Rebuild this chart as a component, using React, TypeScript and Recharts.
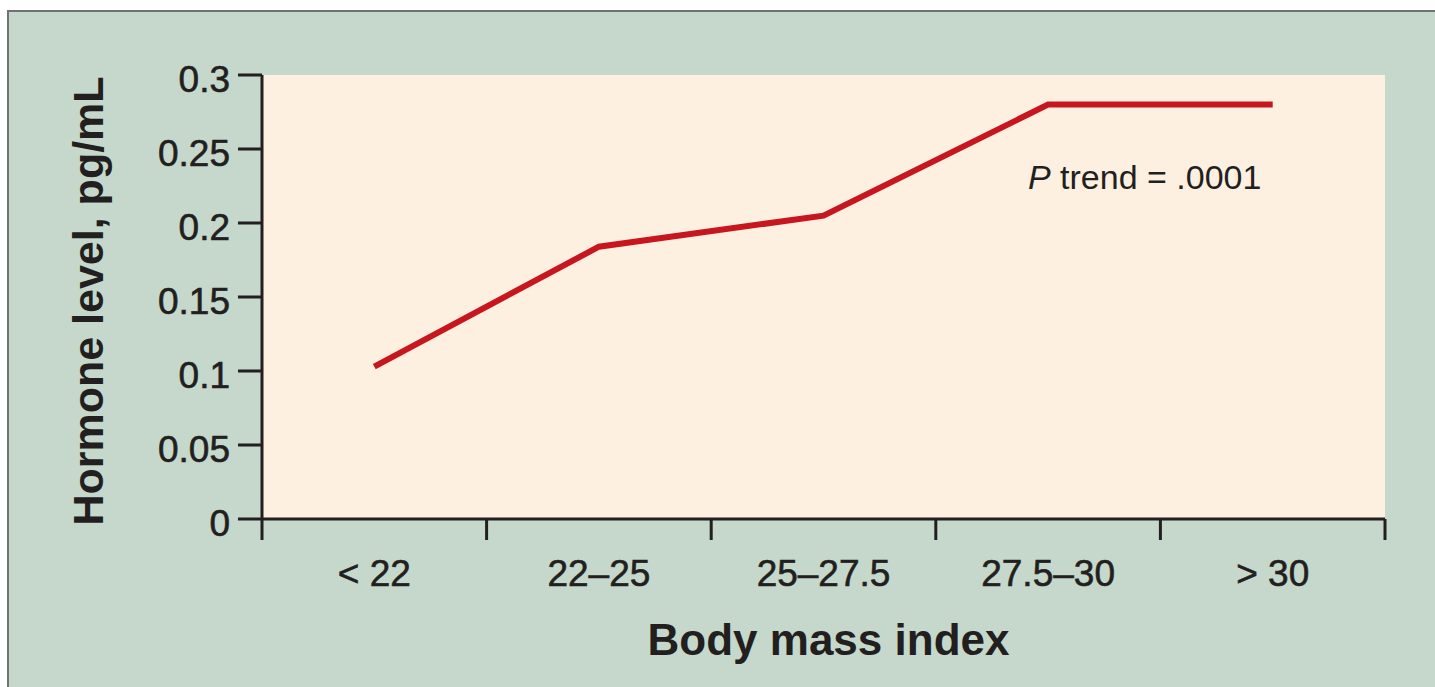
import React from "react";
import {
  LineChart,
  Line,
  XAxis,
  YAxis,
  CartesianGrid,
  ReferenceDot,
} from "recharts";

const categories = ["< 22", "22–25", "25–27.5", "27.5–30", "> 30"];
const hormoneLevels = [0.103, 0.184, 0.205, 0.28, 0.28];
const yTicks = [0, 0.05, 0.1, 0.15, 0.2, 0.25, 0.3];
const yTickLabels = ["0", "0.05", "0.1", "0.15", "0.2", "0.25", "0.3"];
const xBoundaries = [0, 1, 2, 3, 4, 5];
const trendNote = { x: 3.93, y: 0.223, italic: "P", text: " trend = .0001" };

const INK = "#231f20";
const FONT = "'Liberation Sans', Arial, sans-serif";

const data = categories.map((c, i) => ({
  pos: i + 0.5,
  category: c,
  level: hormoneLevels[i],
}));
const xCenters = data.map((d) => d.pos);

const tickStyle = {
  fontSize: 37,
  fill: INK,
  fontFamily: FONT,
  stroke: INK,
  strokeWidth: 0.6,
};

export default function App() {
  return (
    <div
      style={{
        position: "absolute",
        left: 0,
        top: 0,
        width: 1435,
        height: 687,
        background: "#ffffff",
        overflow: "hidden",
      }}
    >
      <div
        style={{
          position: "absolute",
          left: 7,
          top: 10,
          right: 0,
          bottom: 0,
          borderLeft: "2px solid #707173",
          borderTop: "2px solid #707173",
          background: "#c5d8cb",
        }}
      />
      <div style={{ position: "absolute", left: 0, top: 0 }}>
        <LineChart
          width={1435}
          height={687}
          data={data}
          margin={{ top: 75, right: 50, bottom: 0, left: 0 }}
          style={{ fontFamily: FONT }}
        >
          <CartesianGrid
            fill="#fef0e1"
            stroke="none"
            horizontal={false}
            vertical={false}
          />
          {/* category labels sit under the frame axis */}
          <XAxis
            xAxisId="b"
            dataKey="pos"
            type="number"
            domain={[0, 5]}
            ticks={xCenters}
            interval={0}
            tickFormatter={(v) => categories[Math.floor(v)]}
            axisLine={false}
            tickLine={false}
            tickSize={0}
            tickMargin={21}
            height={148}
            tick={tickStyle}
            label={{
              content: (props: any) => {
                const vb = props.viewBox;
                return (
                  <text
                    x={vb.x + vb.width / 2 + 5}
                    y={vb.y + 116}
                    textAnchor="middle"
                    fontSize={44}
                    fontWeight="bold"
                    fill={INK}
                    fontFamily={FONT}
                  >
                    Body mass index
                  </text>
                );
              },
            }}
          />
          <XAxis
            xAxisId="a"
            dataKey="pos"
            type="number"
            domain={[0, 5]}
            ticks={xBoundaries}
            interval={0}
            tickFormatter={() => ""}
            tickSize={21}
            height={20}
            axisLine={{ stroke: INK, strokeWidth: 3 }}
            tickLine={{ stroke: INK, strokeWidth: 3 }}
          />
          <YAxis
            type="number"
            domain={[0, 0.3]}
            ticks={yTicks}
            interval={0}
            width={262}
            tickSize={24}
            tickMargin={8}
            tickFormatter={(v) => yTickLabels[yTicks.indexOf(v)] ?? String(v)}
            tick={{ ...tickStyle, dy: 4 }}
            axisLine={{ stroke: INK, strokeWidth: 3 }}
            tickLine={{ stroke: INK, strokeWidth: 3 }}
            label={{
              content: (props: any) => {
                const vb = props.viewBox;
                const cx = vb.x + 103;
                const cy = vb.y + vb.height / 2 + 4;
                return (
                  <text
                    x={0}
                    y={0}
                    transform={`translate(${cx},${cy}) rotate(-90)`}
                    textAnchor="middle"
                    fontSize={43}
                    fontWeight="bold"
                    fill={INK}
                    fontFamily={FONT}
                  >
                    Hormone level, pg/mL
                  </text>
                );
              },
            }}
          />
          <Line
            xAxisId="a"
            type="linear"
            dataKey="level"
            stroke="#c8161e"
            strokeWidth={6}
            strokeLinecap="butt"
            strokeLinejoin="miter"
            dot={false}
            activeDot={false}
            isAnimationActive={false}
          />
          <ReferenceDot
            xAxisId="a"
            x={trendNote.x}
            y={trendNote.y}
            r={0}
            fill="none"
            stroke="none"
            label={{
              content: (props: any) => {
                const vb = props.viewBox;
                return (
                  <text
                    x={vb.x}
                    y={vb.y}
                    textAnchor="middle"
                    fontSize={34}
                    fill={INK}
                    fontFamily={FONT}
                  >
                    <tspan fontStyle="italic">{trendNote.italic}</tspan>
                    <tspan>{trendNote.text}</tspan>
                  </text>
                );
              },
            }}
          />
        </LineChart>
      </div>
    </div>
  );
}
